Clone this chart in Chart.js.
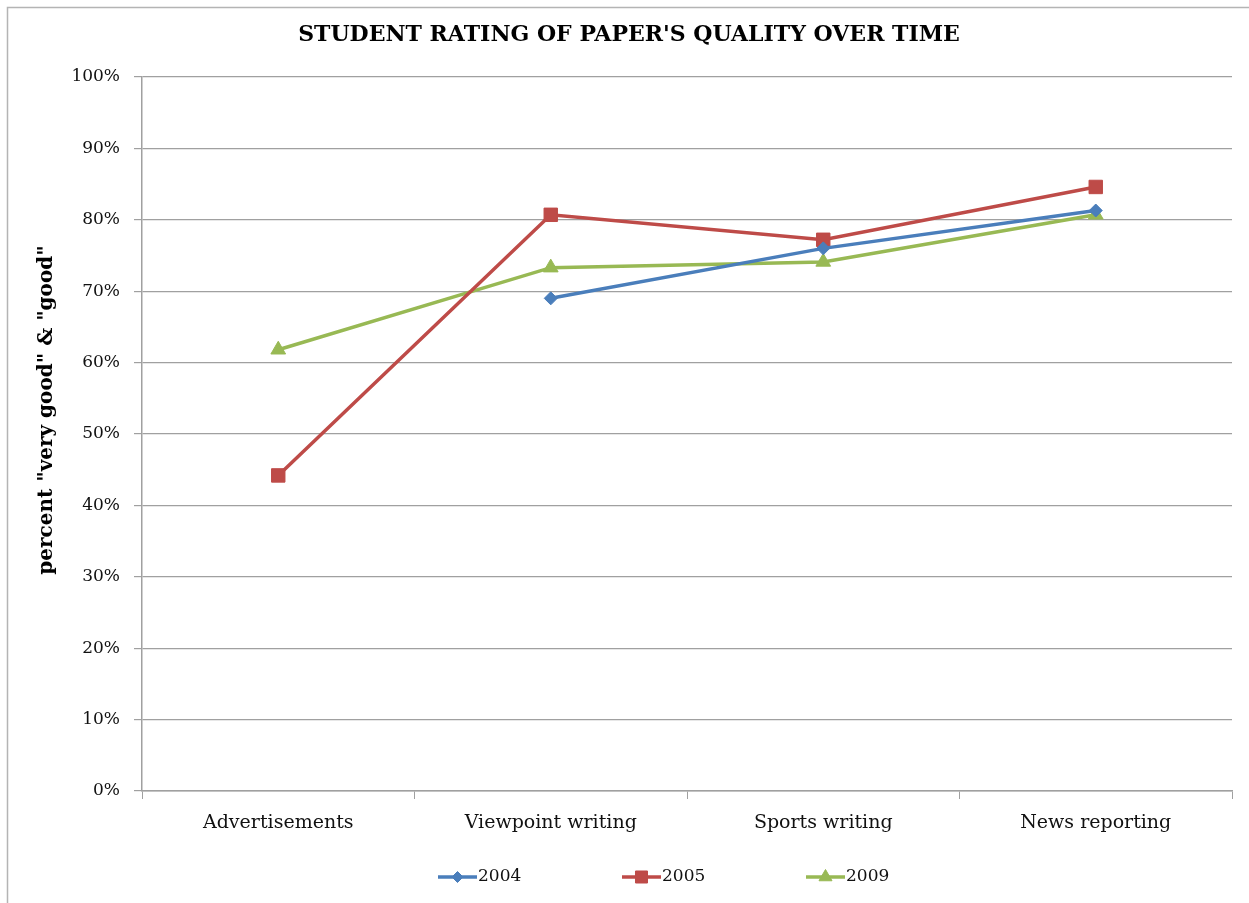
<!DOCTYPE html>
<html lang="en">
<head>
  <meta charset="UTF-8" />
  <script src="https://cdn.jsdelivr.net/npm/chart.js"></script>
  <title>Student Rating of Paper's Quality Over Time</title>
  <style>
    html, body { margin: 0; padding: 0; background: #fff; }
    #wrap { width: 1249px; height: 903px; position: relative; }
  </style>
</head>
<body>
  <div id="wrap">
    <canvas id="ratingChart" width="1249" height="903"></canvas>
  </div>

  <script>
    const categories = ['Advertisements', 'Viewpoint writing', 'Sports writing', 'News reporting'];
    const years = ['2004', '2005', '2009'];
    const values2004 = [null, 69.0, 76.0, 81.3];
    const values2005 = [44.2, 80.7, 77.2, 84.6];
    const values2009 = [61.8, 73.3, 74.1, 80.7];
    const yTicks = [0, 10, 20, 30, 40, 50, 60, 70, 80, 90, 100];
    const yTitle = 'percent "very good" & "good"';

    const serif = "'DejaVu Serif', 'Liberation Serif', serif";
    const gridGray = '#a0a0a0';

    // frame around the chart, like the Excel chart border
    const framePlugin = {
      id: 'frame',
      beforeDraw(chart) {
        const ctx = chart.ctx;
        ctx.save();
        ctx.fillStyle = '#fff';
        ctx.fillRect(0, 0, chart.width, chart.height);
        ctx.strokeStyle = '#b4b4b4';
        ctx.lineWidth = 1.5;
        ctx.strokeRect(7.5, 7.5, chart.width + 20, chart.height + 20);
        ctx.restore();
      }
    };

    // rotated y axis title, sits a bit above the middle like the original
    const yTitlePlugin = {
      id: 'yTitle',
      afterDraw(chart) {
        const ctx = chart.ctx;
        ctx.save();
        ctx.translate(47, 410);
        ctx.rotate(-Math.PI / 2);
        ctx.font = 'bold 20px ' + serif;
        ctx.fillStyle = '#000';
        ctx.textAlign = 'center';
        ctx.textBaseline = 'middle';
        ctx.fillText(yTitle, 0, 0);
        ctx.restore();
      }
    };

    // legend with line + marker samples, drawn under the axis
    const lineLegend = {
      id: 'lineLegend',
      afterDraw(chart) {
        const ctx = chart.ctx;
        const y = 877;
        let x = 438;
        ctx.save();
        ctx.font = '17px ' + serif;
        ctx.textBaseline = 'middle';
        chart.data.datasets.forEach(ds => {
          ctx.strokeStyle = ds.borderColor;
          ctx.fillStyle = ds.borderColor;
          ctx.lineWidth = 3.5;
          ctx.beginPath();
          ctx.moveTo(x, y);
          ctx.lineTo(x + 39, y);
          ctx.stroke();
          ctx.lineWidth = 1;
          Chart.helpers.drawPoint(ctx, {
            pointStyle: ds.pointStyle, radius: ds.pointRadius - 1, rotation: 0, borderWidth: 1
          }, x + 19.5, y);
          ctx.fillStyle = '#111';
          ctx.fillText(ds.label, x + 40, y);
          x += 184;
        });
        ctx.restore();
      }
    };

    const ctx = document.getElementById('ratingChart').getContext('2d');
    new Chart(ctx, {
      type: 'line',
      data: {
        labels: categories,
        datasets: [
          {
            label: years[0],
            data: values2004,
            borderColor: '#4a7ebb',
            backgroundColor: '#4a7ebb',
            borderWidth: 3.5,
            pointStyle: 'rectRot',
            pointRadius: 6.5,
            pointBorderWidth: 1
          },
          {
            label: years[1],
            data: values2005,
            borderColor: '#be4b48',
            backgroundColor: '#be4b48',
            borderWidth: 3.5,
            pointStyle: 'rect',
            pointRadius: 9.5,
            pointBorderWidth: 1
          },
          {
            label: years[2],
            data: values2009,
            borderColor: '#98b954',
            backgroundColor: '#98b954',
            borderWidth: 3.5,
            pointStyle: 'triangle',
            pointRadius: 8.5,
            pointBorderWidth: 1
          }
        ]
      },
      options: {
        responsive: false,
        animation: false,
        layout: { padding: { left: 26, right: 17, top: 0, bottom: 70 } },
        plugins: {
          legend: { display: false },
          tooltip: { enabled: false },
          title: {
            display: true,
            text: "STUDENT RATING OF PAPER'S QUALITY OVER TIME",
            color: '#000',
            font: { family: serif, size: 22, weight: 'bold', lineHeight: 1.2 },
            padding: { top: 22, bottom: 28.6 }
          }
        },
        scales: {
          x: {
            offset: true,
            grid: {
              offset: true,
              drawOnChartArea: false,
              tickLength: 8,
              color: gridGray
            },
            border: { color: gridGray, width: 1.5 },
            ticks: {
              color: '#111',
              padding: 13,
              font: { family: serif, size: 19 }
            },
            afterFit(scale) { scale.height = 42; }
          },
          y: {
            min: 0,
            max: 100,
            afterBuildTicks(scale) { scale.ticks = yTicks.map(v => ({ value: v })); },
            grid: { color: gridGray, lineWidth: 1.2, tickLength: 8 },
            border: { color: gridGray, width: 1.5 },
            ticks: {
              color: '#111',
              padding: 14,
              font: { family: serif, size: 17 },
              callback: v => v + '%'
            },
            afterFit(scale) { scale.width = 116; }
          }
        }
      },
      plugins: [framePlugin, yTitlePlugin, lineLegend]
    });
  </script>
</body>
</html>
